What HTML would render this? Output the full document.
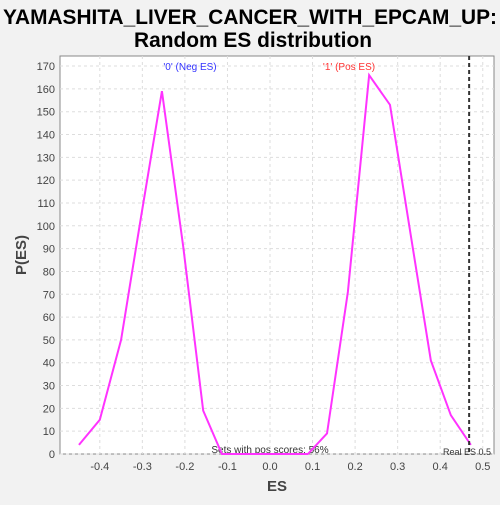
<!DOCTYPE html>
<html><head><meta charset="utf-8"><style>
body{margin:0;background:#f2f2f2;font-family:"Liberation Sans",sans-serif}
</style></head><body>
<svg id="c" width="500" height="500" xmlns="http://www.w3.org/2000/svg">
<text x="250" y="24" text-anchor="middle" font-size="21" font-weight="bold" fill="#000" textLength="494" lengthAdjust="spacingAndGlyphs">YAMASHITA_LIVER_CANCER_WITH_EPCAM_UP:</text>
<text x="253" y="47" text-anchor="middle" font-size="21" font-weight="bold" fill="#000" textLength="238" lengthAdjust="spacingAndGlyphs">Random ES distribution</text>
<rect x="60" y="56" width="434" height="398" fill="#fff" stroke="#888"/>
<g id="grid"></g><g id="ticks"></g>
<text x="277" y="491" text-anchor="middle" font-size="15" font-weight="bold" fill="#444">ES</text>
<text transform="translate(26,255) rotate(-90)" text-anchor="middle" font-size="15" font-weight="bold" fill="#444">P(ES)</text>
<text x="190" y="70" text-anchor="middle" font-size="10" fill="#3333ff">'0' (Neg ES)</text>
<text x="349" y="70" text-anchor="middle" font-size="10" fill="#ff3333">'1' (Pos ES)</text>
<text x="270" y="453" text-anchor="middle" font-size="10" fill="#333">Sets with pos scores: 56%</text>
<text x="491" y="455" text-anchor="end" font-size="9" fill="#333">Real ES 0.5</text>
<g id="marks"></g>
</svg>
<script>
const esValues=[-0.449,-0.40,-0.35,-0.303,-0.254,-0.204,-0.157,-0.113,0.089,0.134,0.183,0.233,0.282,0.329,0.378,0.425,0.472];
const probValues=[4,15,50,104,159,91,19,0,0,9,71,166,153,98,41,17,4];
const xTicks=[-0.4,-0.3,-0.2,-0.1,0.0,0.1,0.2,0.3,0.4,0.5];
const yTicks=[0,10,20,30,40,50,60,70,80,90,100,110,120,130,140,150,160,170];
const realES=0.468;
const NS="http://www.w3.org/2000/svg";
const X=v=>270+v*425.5, Y=v=>454-v*2.282;
const grid=document.getElementById('grid'),ticks=document.getElementById('ticks'),marks=document.getElementById('marks');
function mk(t,a,p){const e=document.createElementNS(NS,t);for(const k in a)e.setAttribute(k,a[k]);p.appendChild(e);return e;}
xTicks.forEach(t=>{
 const g=mk('line',{x1:X(t),x2:X(t),y1:56,y2:454,stroke:'#ddd','stroke-dasharray':'3,3'},grid);
 
 
 const l=mk('text',{x:X(t),y:470,'text-anchor':'middle','font-size':11,fill:'#444'},ticks);
 l.textContent=t.toFixed(1);
 
 
});
yTicks.forEach(t=>{
 const g=mk('line',{x1:60,x2:494,y1:Y(t),y2:Y(t),stroke:'#ddd','stroke-dasharray':'3,3'},grid);
 
 
 const l=mk('text',{x:55,y:Y(t)+4,'text-anchor':'end','font-size':11,fill:'#444'},ticks);
 l.textContent=t;
 
 
});
const pl=mk('polyline',{points:esValues.map((v,i)=>X(v)+','+Y(probValues[i])).join(' '),fill:'none',stroke:'#ff33ff','stroke-width':2},marks);


const rl=mk('line',{x1:X(realES),x2:X(realES),y1:56,y2:454,stroke:'#333','stroke-width':2,'stroke-dasharray':'4,3'},marks);


</script>
</body></html>
